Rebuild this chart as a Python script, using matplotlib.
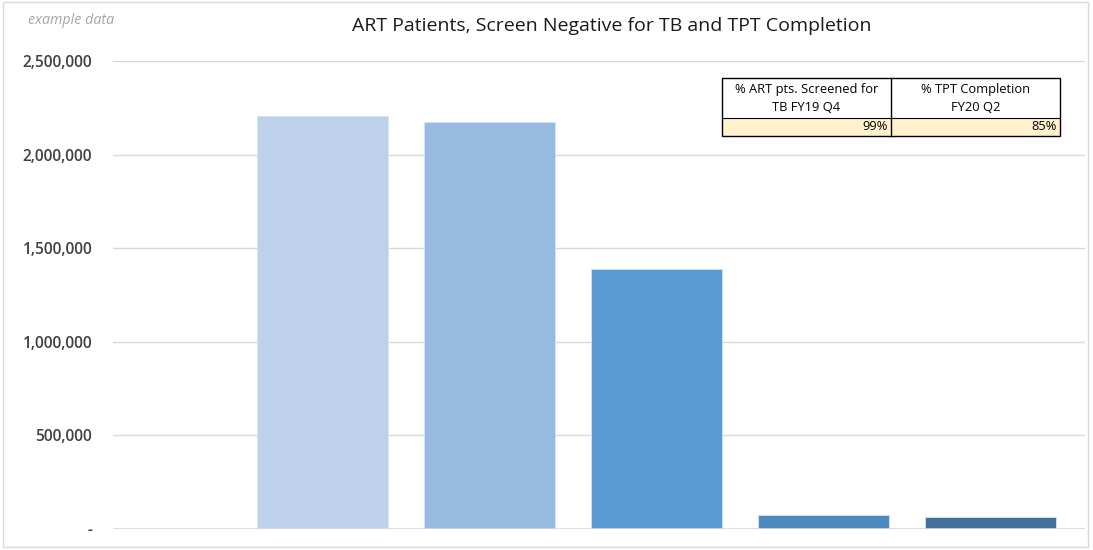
import matplotlib
matplotlib.use("Agg")
import matplotlib.pyplot as plt
from matplotlib.patches import Rectangle
from matplotlib.ticker import FuncFormatter

values = [2205000, 2172000, 1389000, 76000, 63000]
colors = ["#BDD1EA", "#98B9E0", "#5B9BD5", "#4E89BE", "#41709B"]
yticks = [0, 500000, 1000000, 1500000, 2000000, 2500000]
title = "ART Patients, Screen Negative for TB and TPT Completion"
table_headers = ["% ART pts. Screened for\nTB FY19 Q4", "% TPT Completion\nFY20 Q2"]
table_values = ["99%", "85%"]

plt.rcParams['font.family'] = ['Open Sans', 'DejaVu Sans']
W, H = 1093, 550
fig = plt.figure(figsize=(W/100, H/100), dpi=100)

def fx(px): return px / W
def fy(py): return 1 - py / H

# outer frame
fig.patches.append(Rectangle((fx(3), fy(547)), fx(1088) - fx(3), fy(2) - fy(547),
                             transform=fig.transFigure, fill=False, edgecolor="#D9D9D9", lw=1))

ax = fig.add_axes([fx(113), fy(529), fx(1085) - fx(113), fy(61) - fy(529)])
x = list(range(len(values)))
ax.bar(x, values, width=0.785, color=colors, edgecolor="#D6E3F3", linewidth=0.6, zorder=3)
ax.axhline(0, color="#D9D9D9", lw=1.2, zorder=4)
ax.set_xlim(-1.254, 4.569)
ax.set_ylim(0, 2500000)
ax.set_yticks(yticks)
ax.yaxis.set_major_formatter(FuncFormatter(lambda v, p: "-" if v == 0 else f"{int(v):,}"))
ax.grid(axis="y", color="#D9D9D9", lw=1, zorder=0)
for s in ax.spines.values():
    s.set_visible(False)
ax.tick_params(axis="y", length=0, pad=15, labelsize=11.2, labelcolor="#404040")
for lbl in ax.get_yticklabels():
    lbl.set_fontweight("semibold")
ax.set_xticks([])

fig.text(fx(612), fy(26), title, ha="center", va="center", fontsize=14, color="#1a1a1a")
fig.text(fx(28), fy(20), "example data", ha="left", va="center", fontsize=10.3,
         style="italic", color="#A6A6A6")

# table
x0, xm, x1 = 722, 891, 1060
y0, ym, y1 = 78, 118, 136
fig.patches.append(Rectangle((fx(x0), fy(y1)), fx(x1) - fx(x0), fy(ym) - fy(y1),
                             transform=fig.transFigure, facecolor="#FFF2CC", edgecolor="none"))
fig.patches.append(Rectangle((fx(x0), fy(y1)), fx(x1) - fx(x0), fy(y0) - fy(y1),
                             transform=fig.transFigure, fill=False, edgecolor="#000000", lw=1))
fig.lines.append(plt.Line2D([fx(xm), fx(xm)], [fy(y0), fy(y1)], transform=fig.transFigure,
                            color="#000000", lw=1))
fig.lines.append(plt.Line2D([fx(x0), fx(x1)], [fy(ym), fy(ym)], transform=fig.transFigure,
                            color="#000000", lw=0.8))
for (a, b), hdr, val in zip([(x0, xm), (xm, x1)], table_headers, table_values):
    fig.text(fx((a + b) / 2), fy((y0 + ym) / 2 + 0.5), hdr, ha="center", va="center",
             fontsize=9.3, color="#000000", linespacing=1.55)
    fig.text(fx(b - 3), fy((ym + y1) / 2), val, ha="right", va="center", fontsize=9.3, color="#000000")

fig.savefig("out.png", dpi=100)
